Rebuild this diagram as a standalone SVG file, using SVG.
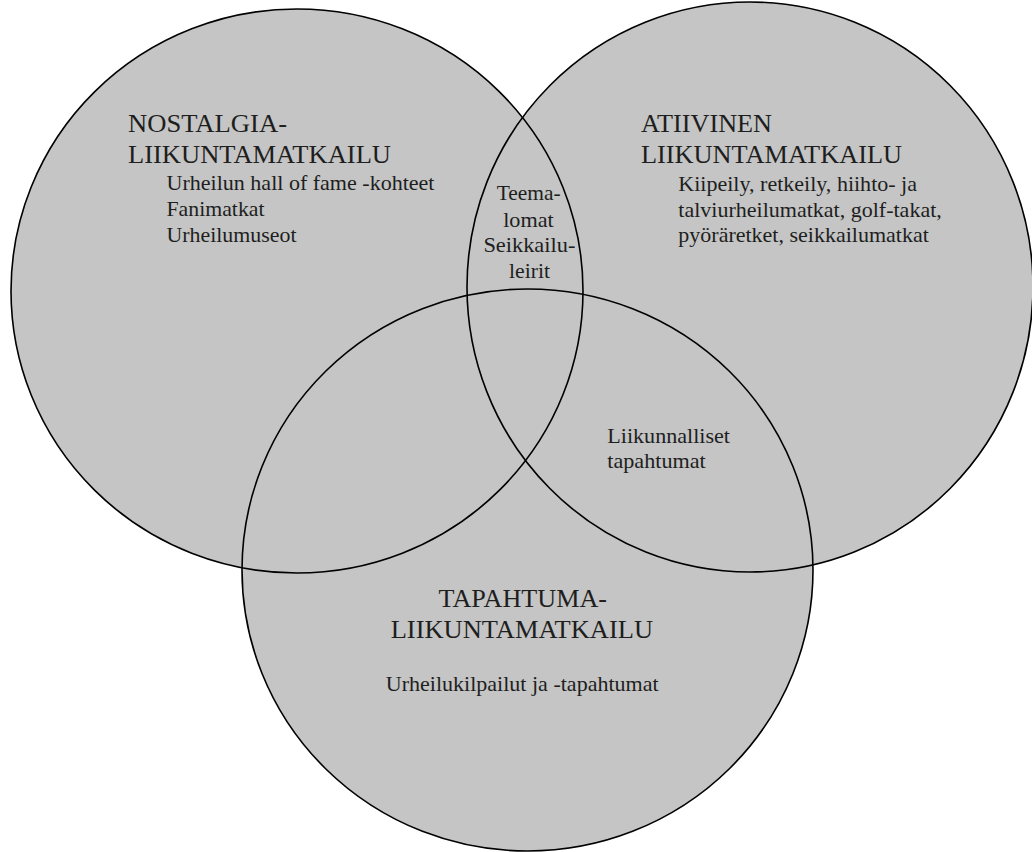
<svg xmlns="http://www.w3.org/2000/svg" width="1032" height="852" viewBox="0 0 1032 852">
<style>
.fill{fill:#c4c5c4;stroke:none}
.ring{fill:none;stroke:#000;stroke-width:1.6}
.lbl{font-family:'Liberation Serif','Times New Roman','DejaVu Serif','Noto Serif',serif;fill:#1e1e1e}
.h{font-size:26px}
.t{font-size:22px}
.c{text-anchor:middle}
</style>
<rect width="1032" height="852" fill="#fff"/>
<g id="fills">
<ellipse class="fill" cx="297" cy="291" rx="286" ry="282"/>
<ellipse class="fill" cx="750" cy="287" rx="283" ry="285"/>
<ellipse class="fill" cx="527.5" cy="570" rx="285.5" ry="281"/>
</g>
<g id="node-nostalgia">
<ellipse class="ring" cx="297" cy="291" rx="286" ry="282"/>
<g class="lbl">
<text class="h" x="128" y="132" textLength="159" lengthAdjust="spacingAndGlyphs">NOSTALGIA-</text>
<text class="h" x="128" y="163" textLength="263" lengthAdjust="spacingAndGlyphs">LIIKUNTAMATKAILU</text>
<text class="t" x="166.5" y="190" textLength="268" lengthAdjust="spacingAndGlyphs">Urheilun hall of fame -kohteet</text>
<text class="t" x="166.5" y="216" textLength="98" lengthAdjust="spacingAndGlyphs">Fanimatkat</text>
<text class="t" x="166.5" y="242" textLength="130" lengthAdjust="spacingAndGlyphs">Urheilumuseot</text>
</g>
</g>
<g id="node-aktiivinen">
<ellipse class="ring" cx="750" cy="287" rx="283" ry="285"/>
<g class="lbl">
<text class="h" x="641" y="132" textLength="131" lengthAdjust="spacingAndGlyphs">ATIIVINEN</text>
<text class="h" x="641" y="163" textLength="261" lengthAdjust="spacingAndGlyphs">LIIKUNTAMATKAILU</text>
<text class="t" x="678.3" y="190.5" textLength="238.7" lengthAdjust="spacingAndGlyphs">Kiipeily, retkeily, hiihto- ja</text>
<text class="t" x="678.3" y="216.5" textLength="263.5" lengthAdjust="spacingAndGlyphs">talviurheilumatkat, golf-takat,</text>
<text class="t" x="678.3" y="242" textLength="250.5" lengthAdjust="spacingAndGlyphs">pyöräretket, seikkailumatkat</text>
</g>
</g>
<g id="node-tapahtuma">
<ellipse class="ring" cx="527.5" cy="570" rx="285.5" ry="281"/>
<g class="lbl">
<text class="h" x="438.6" y="607" textLength="168.4" lengthAdjust="spacingAndGlyphs">TAPAHTUMA-</text>
<text class="h" x="390.7" y="638" textLength="262.3" lengthAdjust="spacingAndGlyphs">LIIKUNTAMATKAILU</text>
<text class="t" x="385.8" y="691" textLength="272.8" lengthAdjust="spacingAndGlyphs">Urheilukilpailut ja -tapahtumat</text>
</g>
</g>
<g id="node-teemalomat" class="lbl">
<text class="t" x="496.7" y="200" textLength="64" lengthAdjust="spacingAndGlyphs">Teema-</text>
<text class="t" x="503.2" y="227" textLength="50.6" lengthAdjust="spacingAndGlyphs">lomat</text>
<text class="t" x="483.4" y="252" textLength="92" lengthAdjust="spacingAndGlyphs">Seikkailu-</text>
<text class="t" x="509" y="278" textLength="41" lengthAdjust="spacingAndGlyphs">leirit</text>
</g>
<g id="node-liikunnalliset" class="lbl">
<text class="t" x="607.3" y="443" textLength="122.7" lengthAdjust="spacingAndGlyphs">Liikunnalliset</text>
<text class="t" x="607.3" y="468" textLength="98.4" lengthAdjust="spacingAndGlyphs">tapahtumat</text>
</g>
<g id="connectors"/>
</svg>
